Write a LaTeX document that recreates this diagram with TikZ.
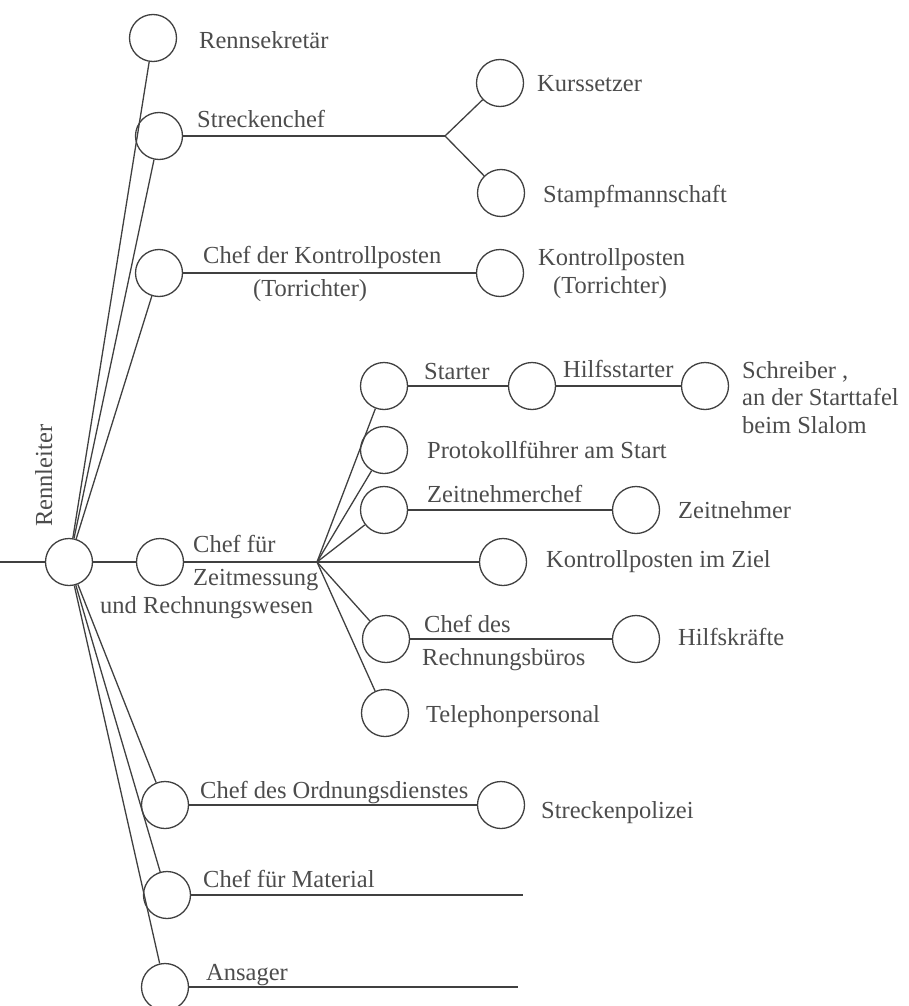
\documentclass[tikz,border=0pt]{standalone}
\usepackage{fontspec}
\setmainfont{Liberation Serif}
\definecolor{linec}{rgb}{0.25,0.25,0.25}
\definecolor{textc}{rgb}{0.30,0.30,0.30}
\begin{document}
\begin{tikzpicture}[x=1pt,y=-1pt,
  pers/.style={circle,draw=linec,line width=1.3pt,minimum size=47pt,inner sep=0pt},
  lbl/.style={anchor=base west,inner sep=0pt,text=textc,font=\fontsize{24.5}{28}\selectfont},
  conn/.style={draw=linec,line width=1.3pt}]
\useasboundingbox (0,0) rectangle (908,1006);
% persons
\node[pers] (rl) at (69,562) {};
\node[pers] (rs) at (153,38) {};
\node[pers] (sc) at (159,136) {};
\node[pers] (ku) at (500,83) {};
\node[pers] (st) at (501,193) {};
\node[pers] (ck) at (159,273) {};
\node[pers] (kp) at (500,273) {};
\node[pers] (cz) at (160,562) {};
\node[pers] (sa) at (384,386) {};
\node[pers] (hs) at (532,386) {};
\node[pers] (sr) at (705,386) {};
\node[pers] (pf) at (384,450) {};
\node[pers] (zc) at (384,510) {};
\node[pers] (zn) at (636,510) {};
\node[pers] (kz) at (503,562) {};
\node[pers] (cr) at (386,639) {};
\node[pers] (hk) at (636,639) {};
\node[pers] (tp) at (385,713) {};
\node[pers] (co) at (165,805) {};
\node[pers] (sp) at (501,805) {};
\node[pers] (cm) at (167,895) {};
\node[pers] (an) at (165,987) {};
% coordinates
\coordinate (in) at (0,562);
\coordinate (fs) at (445,136);
\coordinate (fz) at (317,562);
\coordinate (em) at (523,895);
\coordinate (ea) at (518,987);
% connectors
\draw[conn] (in) -- (rl.west);
\draw[conn] (rl) -- (rs);
\draw[conn] (rl) -- (sc);
\draw[conn] (rl) -- (ck);
\draw[conn] (rl.east) -- (cz.west);
\draw[conn] (rl) -- (co);
\draw[conn] (rl) -- (cm);
\draw[conn] (rl) -- (an);
\draw[conn] (sc.east) -- (fs);
\draw[conn] (fs) -- (ku);
\draw[conn] (fs) -- (st);
\draw[conn] (ck.east) -- (kp.west);
\draw[conn] (cz.east) -- (fz);
\draw[conn] (fz) -- (sa);
\draw[conn] (fz) -- (pf);
\draw[conn] (fz) -- (zc);
\draw[conn] (fz) -- (kz.west);
\draw[conn] (fz) -- (cr);
\draw[conn] (fz) -- (tp);
\draw[conn] (sa.east) -- (hs.west);
\draw[conn] (hs.east) -- (sr.west);
\draw[conn] (zc.east) -- (zn.west);
\draw[conn] (cr.east) -- (hk.west);
\draw[conn] (co.east) -- (sp.west);
\draw[conn] (cm.east) -- (em);
\draw[conn] (an.east) -- (ea);
% labels
\node[lbl] (t1) at (199,49) {Rennsekretär};
\node[lbl] (t2) at (197,128) {Streckenchef};
\node[lbl] (t3) at (537,92) {Kurssetzer};
\node[lbl] (t4) at (543,202) {Stampfmannschaft};
\node[lbl] (t5) at (203,263) {Chef der Kontrollposten};
\node[lbl] (t6) at (253,296) {(Torrichter)};
\node[lbl] (t7) at (538,265) {Kontrollposten};
\node[lbl] (t8) at (553,293) {(Torrichter)};
\node[lbl,rotate=90] (t9) at (52,527) {Rennleiter};
\node[lbl] (t10) at (193,552) {Chef für};
\node[lbl] (t11) at (193,585) {Zeitmessung};
\node[lbl] (t12) at (100,613) {und Rechnungswesen};
\node[lbl] (t13) at (424,379) {Starter};
\node[lbl] (t14) at (563,377) {Hilfsstarter};
\node[lbl] (t15) at (742,378) {Schreiber ,};
\node[lbl] (t16) at (742,405) {an der Starttafel};
\node[lbl] (t17) at (742,433) {beim Slalom};
\node[lbl] (t18) at (427,458) {Protokollführer am Start};
\node[lbl] (t19) at (427,502) {Zeitnehmerchef};
\node[lbl] (t20) at (678,518) {Zeitnehmer};
\node[lbl] (t21) at (546,567) {Kontrollposten im Ziel};
\node[lbl] (t22) at (424,632) {Chef des};
\node[lbl] (t23) at (422,665) {Rechnungsbüros};
\node[lbl] (t24) at (678,645) {Hilfskräfte};
\node[lbl] (t25) at (426,722) {Telephonpersonal};
\node[lbl] (t26) at (200,798) {Chef des Ordnungsdienstes};
\node[lbl] (t27) at (541,818) {Streckenpolizei};
\node[lbl] (t28) at (203,887) {Chef für Material};
\node[lbl] (t29) at (206,980) {Ansager};
\end{tikzpicture}
\end{document}
